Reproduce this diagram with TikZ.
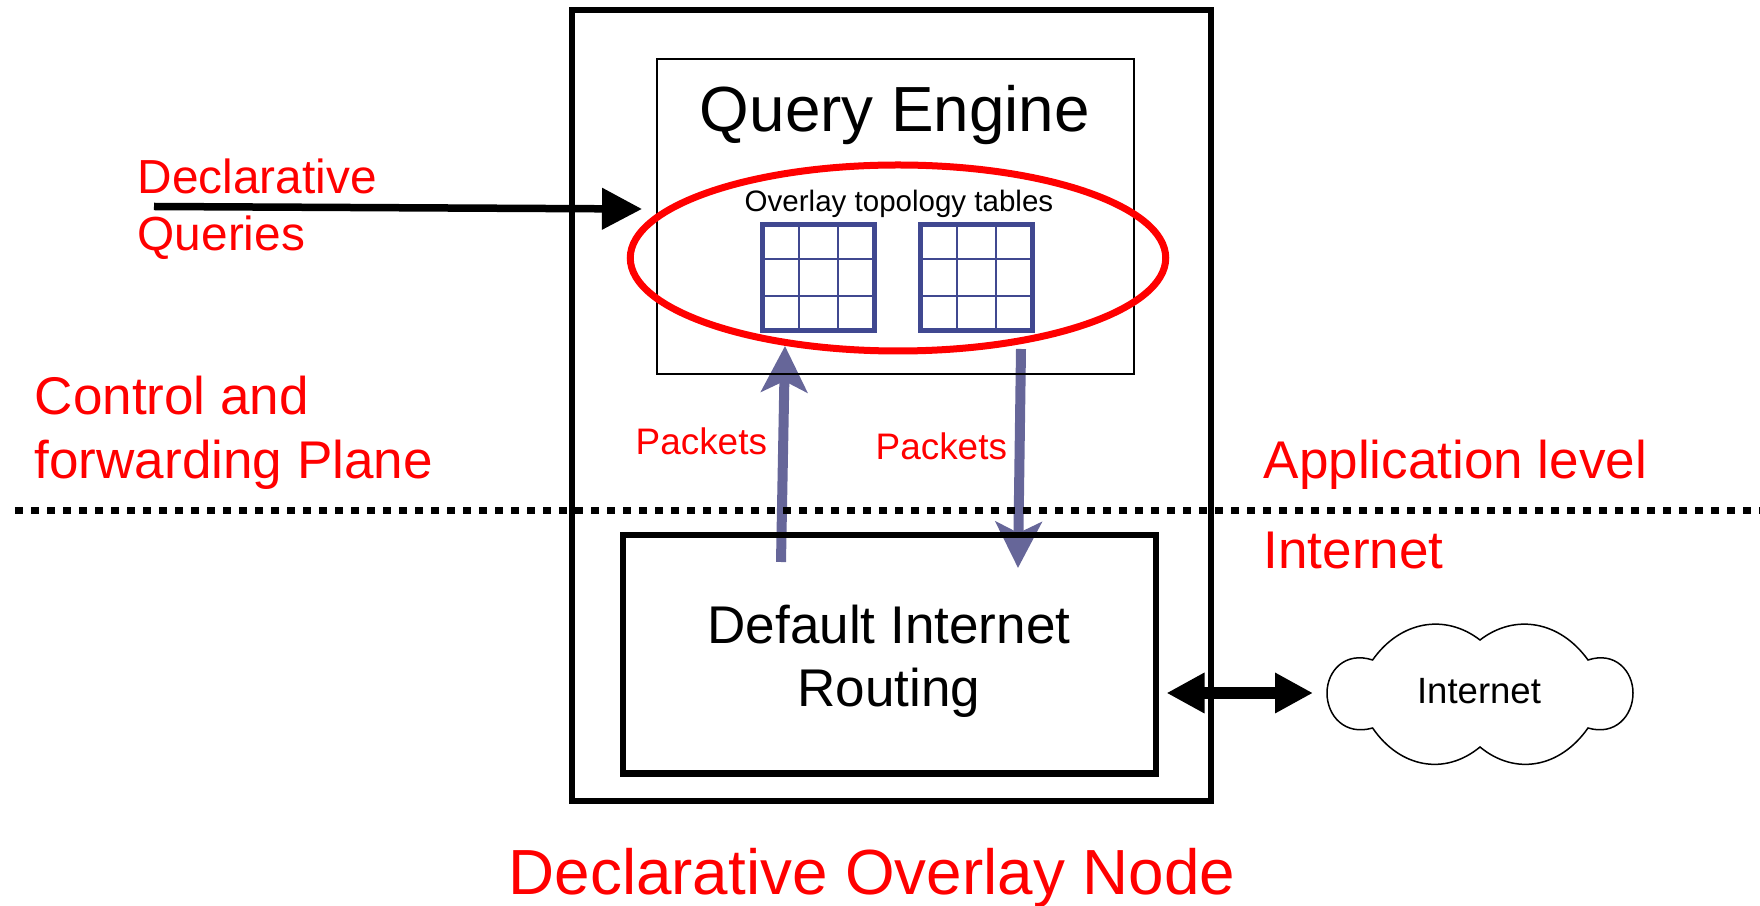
\documentclass[tikz,border=0pt]{standalone}
\usepackage{fontspec}
\setmainfont{Liberation Sans}
\usetikzlibrary{positioning}
\usetikzlibrary{arrows.meta}
\usetikzlibrary{calc}
\usetikzlibrary{shapes.geometric}
\colorlet{redtextc}{red}
\definecolor{packetc}{HTML}{666699}
\definecolor{tablec}{HTML}{404890}
\tikzset{
  bigtext/.style={font=\fontsize{18.15}{20}\selectfont},
  midtext/.style={font=\fontsize{15.1}{18}\selectfont},
  smalltext/.style={font=\fontsize{10.5}{12}\selectfont},
  packetarrow/.style={draw=packetc,fill=packetc,line width=0.10cm,-{Stealth[length=0.46cm,width=0.46cm,inset=0.11cm]}},
  tablebox/.style={anchor=south west,draw=tablec,line width=0.045cm,shape=rectangle,inner sep=0pt,minimum height=1.06cm,minimum width=1.12cm},
}

\begin{document}
\begin{tikzpicture}[scale=1.0]
        \useasboundingbox (0cm,0cm) rectangle (17.6cm,9.06cm);

        % packets go under the boxes and the dotted line
        \coordinate (upstart) at (7.81cm,3.44cm);
        \coordinate (upend) at (7.85cm,5.60cm);
        \coordinate (downstart) at (10.21cm,5.57cm);
        \coordinate (downend) at (10.18cm,3.38cm);
        \draw[packetarrow] (upstart) -- (upend);
        \draw[packetarrow] (downstart) -- (downend);

        \node[anchor=south west,draw,line width=0.06cm,shape=rectangle,inner sep=0pt,minimum height=7.906cm,minimum width=6.39cm]
        (outerbox) at (5.685cm,1.02cm) {};
        \node[anchor=south west,draw,line width=0.015cm,shape=rectangle,inner sep=0pt,minimum height=3.15cm,minimum width=4.77cm]
        (querybox) at (6.56cm,5.31cm) {};
        \node[anchor=south west,draw,line width=0.065cm,shape=rectangle,inner sep=0pt,minimum height=2.386cm,minimum width=5.33cm]
        (routingbox) at (6.195cm,1.29cm) {};

        \node[anchor=base,bigtext] (querytext) at (8.95cm,7.74cm) {Query Engine};
        \node[anchor=base,midtext] (routingtop) at (8.89cm,2.62cm) {Default Internet};
        \node[anchor=base,midtext] (routingbottom) at (8.89cm,1.99cm) {Routing};
        \node[anchor=base,font=\fontsize{8.4}{10}\selectfont] (tabletext) at (8.99cm,6.94cm) {Overlay topology tables};

        % ellipse
        \node[draw=red,line width=0.07cm,shape=ellipse,inner sep=0pt,minimum width=5.355cm,minimum height=1.86cm]
        (topoellipse) at (8.98cm,6.48cm) {};

        % tables
        \node[tablebox] (table0) at (7.60cm,5.73cm) {};
        \node[tablebox] (table1) at (9.18cm,5.73cm) {};
        \foreach \t in {table0,table1} {
          \draw[tablec,line width=0.02cm] ($(\t.south west)!0.333!(\t.south east)$) -- ($(\t.north west)!0.333!(\t.north east)$);
          \draw[tablec,line width=0.02cm] ($(\t.south west)!0.667!(\t.south east)$) -- ($(\t.north west)!0.667!(\t.north east)$);
          \draw[tablec,line width=0.02cm] ($(\t.south west)!0.333!(\t.north west)$) -- ($(\t.south east)!0.333!(\t.north east)$);
          \draw[tablec,line width=0.02cm] ($(\t.south west)!0.667!(\t.north west)$) -- ($(\t.south east)!0.667!(\t.north east)$);
        }

        % dotted line
        \coordinate (dotleft) at (0.15cm,3.95cm);
        \coordinate (dotright) at (17.6cm,3.95cm);
        \draw[line width=0.07cm,dash pattern=on 0.08cm off 0.08cm] (dotleft) -- (dotright);

        \coordinate (querystart) at (1.54cm,6.995cm);
        \coordinate (queryend) at (6.42cm,6.97cm);
        \draw[line width=0.075cm,-{Triangle[length=0.40cm,width=0.40cm]}] (querystart) -- (queryend);

        % cloud
        \draw[line width=0.015cm] (13.726cm,2.46cm)
          .. controls (14.0cm,2.85cm) and (14.45cm,2.93cm) .. (14.80cm,2.66cm)
          .. controls (15.15cm,2.93cm) and (15.60cm,2.85cm) .. (15.88cm,2.46cm)
          .. controls (16.15cm,2.55cm) and (16.33cm,2.35cm) .. (16.33cm,2.13cm) coordinate (cloudeast)
          .. controls (16.33cm,1.90cm) and (16.15cm,1.70cm) .. (15.88cm,1.78cm)
          .. controls (15.60cm,1.38cm) and (15.15cm,1.30cm) .. (14.80cm,1.59cm)
          .. controls (14.45cm,1.30cm) and (14.0cm,1.38cm) .. (13.726cm,1.78cm)
          .. controls (13.45cm,1.70cm) and (13.27cm,1.90cm) .. (13.27cm,2.13cm) coordinate (cloudwest)
          .. controls (13.27cm,2.35cm) and (13.45cm,2.55cm) .. (13.726cm,2.46cm) -- cycle;
        \node[anchor=base,font=\fontsize{10.4}{12}\selectfont] (cloudtext) at (14.79cm,2.02cm) {Internet};

        \coordinate (routingport) at (routingbox.east |- cloudwest);
        \draw[line width=0.12cm,{Triangle[length=0.38cm,width=0.38cm]}-{Triangle[length=0.38cm,width=0.38cm]},shorten <=0.075cm,shorten >=0.14cm] (routingport) -- (cloudwest);

        % red labels
        \node[anchor=base west,inner sep=0pt,text=redtextc,font=\fontsize{13.6}{16}\selectfont] (decltext) at (1.37cm,7.12cm) {Declarative};
        \node[anchor=base west,inner sep=0pt,text=redtextc,font=\fontsize{13.6}{16}\selectfont] (queriestext) at (1.37cm,6.55cm) {Queries};
        \node[anchor=base west,inner sep=0pt,text=redtextc,midtext] (controltext) at (0.34cm,4.91cm) {Control and};
        \node[anchor=base west,inner sep=0pt,text=redtextc,midtext] (forwardtext) at (0.34cm,4.27cm) {forwarding Plane};
        \node[anchor=base west,inner sep=0pt,text=redtextc,midtext] (applevel) at (12.63cm,4.27cm) {Application level};
        \node[anchor=base west,inner sep=0pt,text=redtextc,midtext] (internetlevel) at (12.63cm,3.37cm) {Internet};
        \node[anchor=base west,inner sep=0pt,text=redtextc,smalltext] (packets0) at (6.35cm,4.51cm) {Packets};
        \node[anchor=base west,inner sep=0pt,text=redtextc,smalltext] (packets1) at (8.75cm,4.46cm) {Packets};
        \node[anchor=base,inner sep=0pt,text=redtextc,bigtext] (nodetext) at (8.72cm,0.115cm) {Declarative Overlay Node};

        \end{tikzpicture}
\end{document}
